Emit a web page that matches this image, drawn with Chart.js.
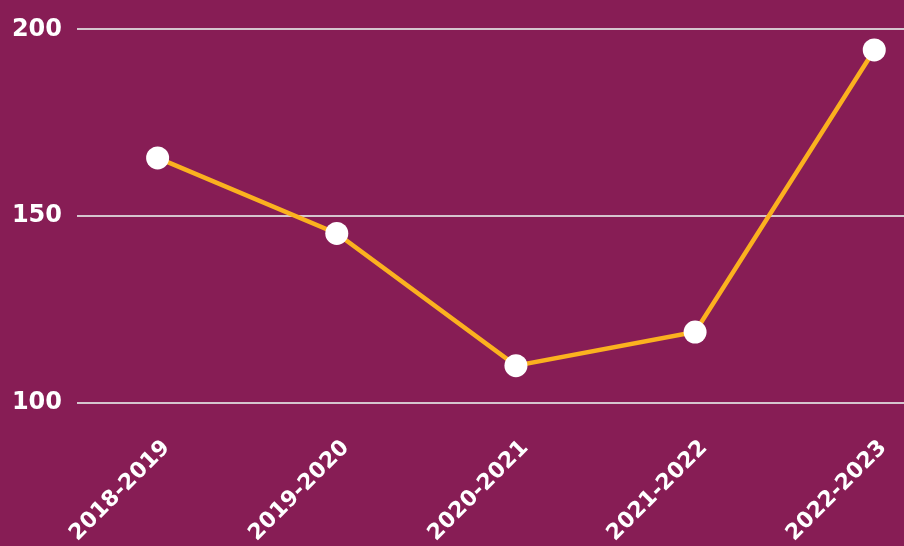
<!DOCTYPE html>
<html>
<head>
<meta charset="utf-8">
<script src="https://cdn.jsdelivr.net/npm/chart.js@4/dist/chart.umd.min.js"></script>
<style>
  html, body { margin: 0; padding: 0; background: #871D55; overflow: hidden; }
  #wrap { width: 904px; height: 546px; position: relative; }
</style>
</head>
<body>
<div id="wrap"><canvas id="c"></canvas></div>
<script>
const categories = ['2018-2019', '2019-2020', '2020-2021', '2021-2022', '2022-2023'];
const values = [165.6, 145.4, 110.0, 119.0, 194.5];
const yTicks = [100, 150, 200];

const FONT_Y = { family: '"DejaVu Sans", sans-serif', size: 24, weight: 'bold' };
const FONT_X = { family: '"DejaVu Sans", sans-serif', size: 22, weight: 'bold' };

new Chart(document.getElementById('c'), {
  type: 'line',
  data: {
    datasets: [{
      data: values.map((v, i) => ({ x: i, y: v })),
      borderColor: '#FBB11F',
      borderWidth: 4.5,
      pointBackgroundColor: '#FFFFFF',
      pointBorderColor: '#FFFFFF',
      pointBorderWidth: 0,
      pointRadius: 11.5,
      pointHoverRadius: 11.5,
      tension: 0,
      fill: false,
      clip: false
    }]
  },
  options: {
    responsive: true,
    maintainAspectRatio: false,
    animation: false,
    layout: { autoPadding: false, padding: { top: 27, left: 0, right: 0, bottom: 0 } },
    plugins: { legend: { display: false }, tooltip: { enabled: false } },
    scales: {
      x: {
        type: 'linear',
        min: -0.45,
        max: 4.166,
        afterBuildTicks: (s) => { s.ticks = categories.map((_, i) => ({ value: i })); },
        afterFit: (s) => { s.height = 143; s.paddingLeft = 0; s.paddingRight = 0; },
        grid: { display: false, drawTicks: false },
        border: { display: false },
        ticks: {
          color: '#FFFFFF',
          font: FONT_X,
          minRotation: 45,
          maxRotation: 45,
          autoSkip: false,
          padding: 32,
          labelOffset: 9,
          callback: (v) => categories[v] ?? ''
        }
      },
      y: {
        min: 100,
        max: 200,
        afterBuildTicks: (s) => { s.ticks = yTicks.map(v => ({ value: v })); },
        afterFit: (s) => { s.width = 77; },
        grid: { color: '#D5C6CE', lineWidth: 2, drawTicks: false },
        border: { display: false },
        ticks: { color: '#FFFFFF', font: FONT_Y, padding: 15 }
      }
    }
  }
});
</script>
</body>
</html>
